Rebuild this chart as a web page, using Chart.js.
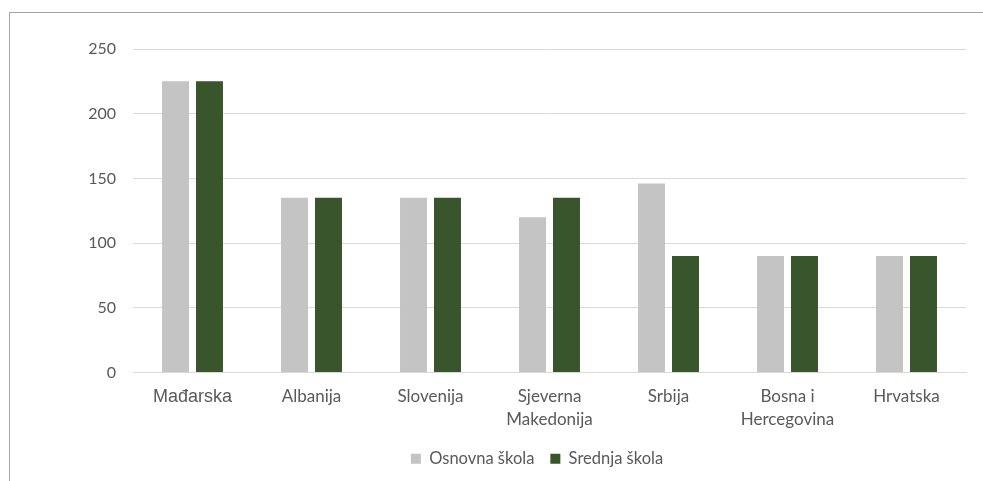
<!DOCTYPE html>
<html>
<head>
<meta charset="utf-8">
<script src="https://cdn.jsdelivr.net/npm/chart.js@4"></script>
<style>
  html, body { margin: 0; padding: 0; background: #fff; }
  #wrap { position: relative; width: 983px; height: 481px; }
</style>
</head>
<body>
<div id="wrap"><canvas id="c" width="983" height="481"></canvas></div>
<script>
const categories = ['Mađarska', 'Albanija', 'Slovenija', ['Sjeverna', 'Makedonija'], 'Srbija', ['Bosna i', 'Hercegovina'], 'Hrvatska'];
const seriesNames = ['Osnovna škola', 'Srednja škola'];
const osnovna = [225, 135, 135, 120, 146, 90, 90];
const srednja = [225, 135, 135, 135, 90, 90, 90];
const yTicks = [0, 50, 100, 150, 200, 250];

const textColor = '#595959';
const gridColor = '#d9d9d9';

const framePlugin = {
  id: 'frame',
  afterLayout(chart) {
    const lg = chart.legend;
    if (lg) { lg.left += 54; lg.right += 54; }
  },
  beforeDraw(chart) {
    const ctx = chart.ctx;
    ctx.save();
    ctx.fillStyle = '#ffffff';
    ctx.fillRect(0, 0, chart.width, chart.height);
    ctx.strokeStyle = '#a6a6a6';
    ctx.lineWidth = 1;
    ctx.strokeRect(9.5, 12.5, 1200, 600);
    ctx.restore();
  }
};

new Chart(document.getElementById('c'), {
  type: 'bar',
  data: {
    labels: categories,
    datasets: [
      { label: seriesNames[0], data: osnovna, backgroundColor: '#c4c4c4', borderWidth: 0 },
      { label: seriesNames[1], data: srednja, backgroundColor: '#38552b', borderWidth: 0 }
    ]
  },
  options: {
    responsive: false,
    animation: false,
    devicePixelRatio: 1,
    categoryPercentage: 0.571,
    barPercentage: 0.794,
    layout: { padding: { left: 0, right: 17, top: 49, bottom: 4 } },
    plugins: {
      tooltip: { enabled: false },
      legend: {
        position: 'bottom',
        labels: {
          color: textColor,
          font: { family: 'Lato', size: 16.5 },
          boxWidth: 10,
          boxHeight: 10,
          padding: 16
        }
      }
    },
    scales: {
      x: {
        grid: { display: false, drawTicks: false },
        border: { display: true, color: gridColor, width: 1 },
        ticks: {
          color: textColor,
          padding: 13,
          maxRotation: 0,
          autoSkip: false,
          font: (ctx) => ctx.index === 0
            ? { family: 'Liberation Sans, Arial', size: 18, lineHeight: 1.3 }
            : { family: 'Lato', size: 17, lineHeight: 1.35 }
        },
        afterFit(scale) { scale.height = 62; }
      },
      y: {
        min: 0,
        max: 250,
        afterBuildTicks(scale) { scale.ticks = yTicks.map(v => ({ value: v })); },
        grid: { color: gridColor, lineWidth: 1, drawTicks: false },
        border: { display: false },
        ticks: {
          color: textColor,
          padding: 17,
          font: { family: 'Lato', size: 16 }
        },
        afterFit(scale) { scale.width = 133; }
      }
    }
  },
  plugins: [framePlugin]
});
</script>
</body>
</html>
